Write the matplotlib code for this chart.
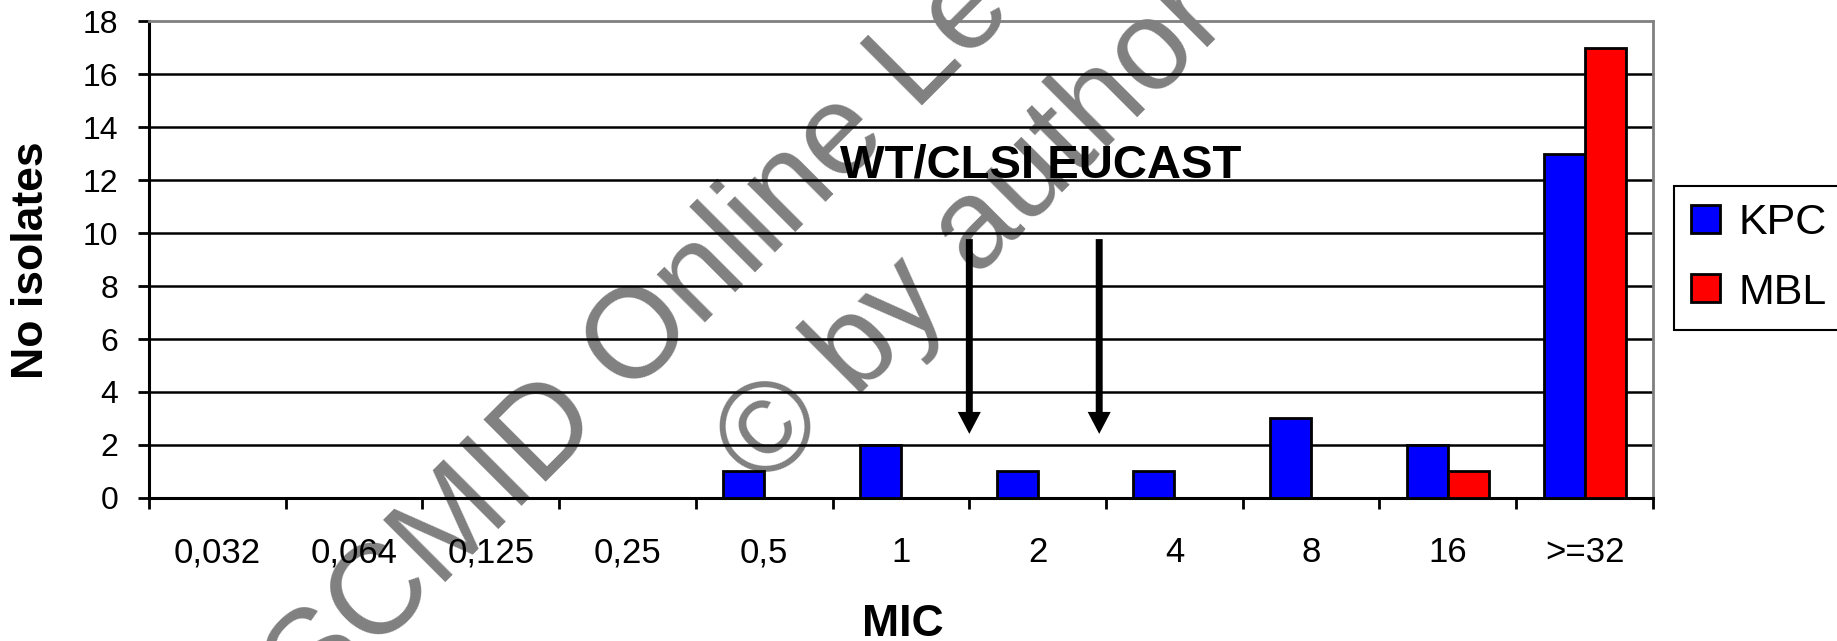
import numpy as np
import matplotlib
matplotlib.use("Agg")
import matplotlib.pyplot as plt
from matplotlib.ticker import NullFormatter

plt.rcParams["font.family"] = ["Liberation Sans", "DejaVu Sans"]

# MIC distribution, number of isolates per dilution
mic = ["0,032", "0,064", "0,125", "0,25", "0,5", "1", "2", "4", "8", "16", ">=32"]
kpc = [0, 0, 0, 0, 1, 2, 1, 1, 3, 2, 13]
mbl = [0, 0, 0, 0, 0, 0, 0, 0, 0, 1, 17]
yticks = list(range(0, 19, 2))
# breakpoint arrows (WT/CLSI, EUCAST) on the category axis
breakpoints = [5.5, 6.45]

BLUE = "#0000FF"; RED = "#FF0000"; GREY = "#808080"

fig = plt.figure(figsize=(18.37, 6.41), dpi=100)
ax = fig.add_axes([0.0811, 0.2231, 0.8187, 0.7441])
ax.patch.set_visible(False)

x = np.arange(len(mic))
w = 0.3
ax.bar(x - w/2, kpc, w, color=BLUE, edgecolor="black", lw=2, label="KPC", zorder=3)
ax.bar(x + w/2, mbl, w, color=RED, edgecolor="black", lw=2, label="MBL", zorder=3)

ax.set_xlim(-0.5, len(mic) - 0.5)
ax.set_ylim(0, 18)
ax.hlines(yticks[1:-1], -0.5, len(mic) - 0.5, color="black", lw=1.8, zorder=1)

# ticks on category boundaries, labels in the middle of each category
ax.set_xticks(np.arange(-0.5, len(mic), 1))
ax.xaxis.set_major_formatter(NullFormatter())
ax.set_xticks(x, mic, minor=True)
ax.tick_params(axis="x", which="major", length=8, width=2, direction="out")
ax.tick_params(axis="x", which="minor", length=0, pad=27.5, labelsize=25)
ax.set_yticks(yticks)
ax.tick_params(axis="y", length=8, width=2, direction="out", pad=14, labelsize=23)

for s in ("left", "bottom"):
    ax.spines[s].set_linewidth(2.2); ax.spines[s].set_color("black")
for s in ("top", "right"):
    ax.spines[s].set_linewidth(2); ax.spines[s].set_color(GREY)

for bx in breakpoints:
    ax.annotate("", xy=(bx, 2.42), xytext=(bx, 9.77),
                arrowprops=dict(arrowstyle="simple,head_length=1.58,head_width=1.66,tail_width=0.5",
                                color="black", lw=0, shrinkA=0, shrinkB=0, mutation_scale=10))
ax.text(6.02, 12.08, "WT/CLSI EUCAST", ha="center", va="baseline",
        fontsize=34, fontweight="bold", zorder=5)

fig.text(32/1837, 1 - 260/641, "No isolates", rotation=90, ha="center", va="center",
         fontsize=32, fontweight="bold")
fig.text(903/1837, 1 - 624/641, "MIC", ha="center", va="center",
         fontsize=32, fontweight="bold")

leg = fig.legend(loc="upper left", bbox_to_anchor=(1674/1837, 1 - 186/641),
                 fontsize=31, frameon=True, fancybox=False, edgecolor="black",
                 framealpha=1, borderaxespad=0, borderpad=0.4, handlelength=0.67,
                 handleheight=0.62, handletextpad=0.42, labelspacing=0.68)
leg.get_frame().set_linewidth(1.5)

# watermark, behind the chart
fig.text(885/1837, 1 - 142.5/641, "ESCMID Online Lecture Library", rotation=45,
         rotation_mode="anchor", ha="center", va="baseline", fontsize=92,
         color=GREY, zorder=-1)
fig.text(998/1837, 1 - 257/641, "© by author", rotation=45,
         rotation_mode="anchor", ha="center", va="baseline", fontsize=92,
         color=GREY, zorder=-1)

fig.savefig("out.png", dpi=100)
